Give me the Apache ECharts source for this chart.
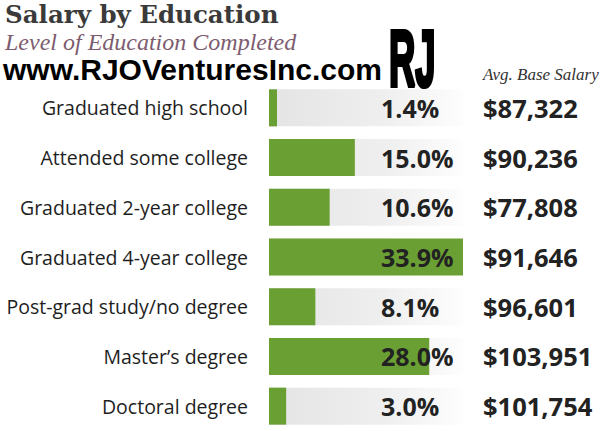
<!DOCTYPE html>
<html>
<head>
<meta charset="utf-8">
<script src="https://cdn.jsdelivr.net/npm/echarts@6/dist/echarts.min.js"></script>
<style>
  html, body { margin: 0; padding: 0; background: #fff; }
  #chart { width: 600px; height: 431px; }
</style>
</head>
<body>
<div id="chart"></div>
<script>
// data
const levels = [
  'Graduated high school',
  'Attended some college',
  'Graduated 2-year college',
  'Graduated 4-year college',
  'Post-grad study/no degree',
  'Master\u2019s degree',
  'Doctoral degree'
];
const shares = [1.4, 15.0, 10.6, 33.9, 8.1, 28.0, 3.0];
const salaries = [87322, 90236, 77808, 91646, 96601, 103951, 101754];

function money(v){
  return '$' + v.toLocaleString('en-US');
}

let myChart = echarts.init(document.getElementById('chart'), null, { renderer: 'svg' });

let option = {
  animation: false,
  backgroundColor: '#fff',
  graphic: [
    {
      type: 'text', left: 5, top: 2,
      style: { text: 'Salary by Education', font: 'bold 24.5px "DejaVu Serif"', fill: '#3a3a3a' }
    },
    {
      type: 'text', left: 5, top: 30,
      style: { text: 'Level of Education Completed', font: 'italic 24px "Liberation Serif"', fill: '#7d5c6f' }
    },
    {
      type: 'text', left: 3, top: 54,
      style: { text: 'www.RJOVenturesInc.com', font: 'bold 30px "Liberation Sans"', fill: '#000' }
    },
    {
      type: 'text', x: 389, y: 17, scaleX: 0.48, scaleY: 1.06,
      style: { text: 'RJ', font: 'bold 76px "Liberation Sans"', fill: '#000', stroke: '#000', lineWidth: 4 }
    },
    {
      type: 'text', left: 483, top: 66,
      style: { text: 'Avg. Base Salary', font: 'italic 17px "Liberation Serif"', fill: '#333' }
    }
  ],
  grid: { left: 269, top: 83, width: 194, height: 354 },
  xAxis: { type: 'value', min: 0, max: 33.9, show: false },
  yAxis: {
    type: 'category',
    data: levels,
    inverse: true,
    axisLine: { show: false },
    axisTick: { show: false },
    axisLabel: {
      margin: 21,
      fontFamily: 'Open Sans',
      fontSize: 19.5,
      color: '#1e1e1e'
    }
  },
  series: [
    {
      type: 'bar',
      data: shares,
      barWidth: 37,
      itemStyle: { color: '#6a9f33' },
      showBackground: true,
      backgroundStyle: {
        color: new echarts.graphic.LinearGradient(0, 0, 1, 0, [
          { offset: 0, color: '#e4e4e4' },
          { offset: 0.6, color: '#efefef' },
          { offset: 1, color: '#fdfdfd' }
        ])
      },
      label: {
        show: true,
        position: [112, '50%'],
        align: 'left',
        verticalAlign: 'middle',
        formatter: (p) => '{p|' + shares[p.dataIndex].toFixed(1) + '%}{s|' + money(salaries[p.dataIndex]) + '}',
        rich: {
          p: { width: 102, fontFamily: 'Open Sans', fontWeight: 'bold', fontSize: 25, color: '#222' },
          s: { fontFamily: 'Open Sans', fontWeight: 'bold', fontSize: 25.5, color: '#222' }
        }
      }
    }
  ]
};

myChart.setOption(option);
</script>
</body>
</html>
